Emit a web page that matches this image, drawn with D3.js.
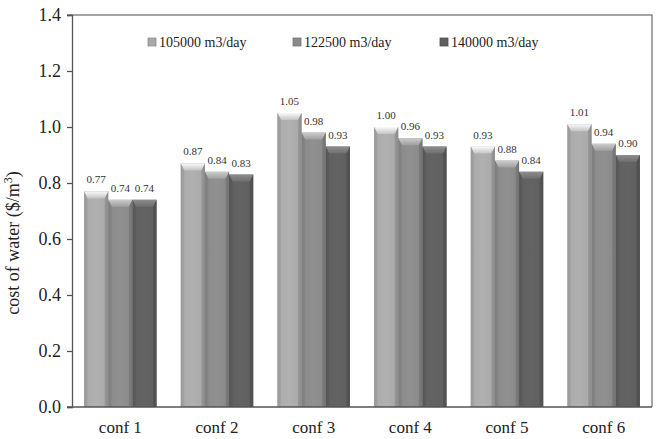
<!DOCTYPE html>
<html>
<head>
<meta charset="utf-8">
<script src="https://cdn.jsdelivr.net/npm/d3@7"></script>
<style>
  html, body { margin: 0; padding: 0; background: #fff; }
  svg text { font-family: "Liberation Serif", "DejaVu Serif", serif !important; }
</style>
</head>
<body>
<svg id="chart" width="657" height="439"></svg>
<script>
// Cost of water per configuration and plant capacity
const categories = ["conf 1", "conf 2", "conf 3", "conf 4", "conf 5", "conf 6"];
const seriesNames = ["105000 m3/day", "122500 m3/day", "140000 m3/day"];
const values105000 = [0.77, 0.87, 1.05, 1.00, 0.93, 1.01];
const values122500 = [0.74, 0.84, 0.98, 0.96, 0.88, 0.94];
const values140000 = [0.74, 0.83, 0.93, 0.93, 0.84, 0.90];
const yTicks = [0, 0.2, 0.4, 0.6, 0.8, 1.0, 1.2, 1.4];

const seriesValues = [values105000, values122500, values140000];
const baseColors = ["#a9a9a9", "#8a8a8a", "#5f5f5f"];
const FONT = "Liberation Serif";

const svg = d3.select("#chart");
const margin = { left: 72, right: 5, top: 15, bottom: 32 };
const W = 657, H = 439;
const x0 = margin.left, x1 = W - margin.right;
const yTop = margin.top, yBot = H - margin.bottom;

const x = d3.scaleBand().domain(categories).range([x0, x1])
  .paddingInner(0.25).paddingOuter(0.125);
const xs = d3.scaleBand().domain(d3.range(seriesNames.length)).range([0, x.bandwidth()]);
const y = d3.scaleLinear().domain([0, 1.4]).range([yBot, yTop]);

// Gradients giving each bar a rounded, bevelled look
const defs = svg.append("defs");
baseColors.forEach((c, i) => {
  const base = d3.color(c);
  const g = defs.append("linearGradient").attr("id", "body" + i)
    .attr("x1", "0").attr("x2", "1").attr("y1", "0").attr("y2", "0");
  g.append("stop").attr("offset", "0").attr("stop-color", base.darker(0.35));
  g.append("stop").attr("offset", "0.12").attr("stop-color", base.brighter(0.05));
  g.append("stop").attr("offset", "0.5").attr("stop-color", base.brighter(0.12));
  g.append("stop").attr("offset", "0.88").attr("stop-color", base.brighter(0.02));
  g.append("stop").attr("offset", "1").attr("stop-color", base.darker(0.45));
  const cap = defs.append("linearGradient").attr("id", "cap" + i)
    .attr("x1", "0").attr("x2", "0").attr("y1", "0").attr("y2", "1");
  cap.append("stop").attr("offset", "0").attr("stop-color", base.brighter(1.1));
  cap.append("stop").attr("offset", "1").attr("stop-color", base.brighter(0.4));
});

// Plot frame (top and right)
svg.append("path")
  .attr("d", `M${x0 - 5},${yTop}H${x1}V${yBot}`)
  .attr("fill", "none").attr("stroke", "#868686").attr("stroke-width", 1.5);

// Y axis
const yAxis = svg.append("g").attr("transform", `translate(${x0},0)`)
  .call(d3.axisLeft(y).tickValues(yTicks).tickFormat(d3.format(".1f")).tickSize(5).tickPadding(6));
yAxis.attr("font-family", null).attr("font-size", null);
yAxis.select(".domain").attr("stroke", "#555").attr("stroke-width", 1.3);
yAxis.selectAll(".tick line").attr("stroke", "#555").attr("stroke-width", 1.3);
yAxis.selectAll("text").style("font-family", FONT).style("font-size", "18px").attr("fill", "#222");

// Bars
const groups = svg.append("g").selectAll("g").data(categories).join("g")
  .attr("transform", d => `translate(${x(d)},0)`);

seriesValues.forEach((vals, si) => {
  const bw = xs.bandwidth();
  const bx = xs(si);
  const cap = 7, inset = 3.5;
  const bar = groups.append("g");
  bar.append("rect")
    .attr("x", bx).attr("width", bw)
    .attr("y", (d, ci) => y(vals[ci]))
    .attr("height", (d, ci) => yBot - y(vals[ci]))
    .attr("fill", `url(#body${si})`);
  // top bevel
  bar.append("path")
    .attr("d", (d, ci) => {
      const t = y(vals[ci]);
      return `M${bx},${t}H${bx + bw}L${bx + bw - inset},${t + cap}H${bx + inset}Z`;
    })
    .attr("fill", `url(#cap${si})`);
  // side bevel shading
  bar.append("path")
    .attr("d", (d, ci) => {
      const t = y(vals[ci]);
      return `M${bx},${t}L${bx + inset},${t + cap}V${yBot}H${bx}Z`;
    })
    .attr("fill", d3.color(baseColors[si]).darker(0.25)).attr("opacity", 0.6);
  bar.append("path")
    .attr("d", (d, ci) => {
      const t = y(vals[ci]);
      return `M${bx + bw},${t}L${bx + bw - inset},${t + cap}V${yBot}H${bx + bw}Z`;
    })
    .attr("fill", d3.color(baseColors[si]).darker(0.6)).attr("opacity", 0.6);
  // value labels
  bar.append("text")
    .attr("x", bx + bw / 2)
    .attr("y", (d, ci) => y(vals[ci]) - 8)
    .attr("text-anchor", "middle")
    .style("font-family", FONT).style("font-size", "11px")
    .attr("fill", "#333")
    .text((d, ci) => d3.format(".2f")(vals[ci]));
});

// X axis baseline and category labels
svg.append("line").attr("x1", x0 - 5).attr("x2", x1).attr("y1", yBot).attr("y2", yBot)
  .attr("stroke", "#555").attr("stroke-width", 1.3);
svg.append("g").selectAll("text").data(categories).join("text")
  .attr("x", d => x(d) + x.bandwidth() / 2)
  .attr("y", yBot + 26)
  .attr("text-anchor", "middle")
  .style("font-family", FONT).style("font-size", "17px")
  .attr("fill", "#222")
  .text(d => d);

// Y axis title
const yTitle = svg.append("text")
  .attr("transform", `translate(19,${243}) rotate(-90)`)
  .attr("text-anchor", "middle")
  .style("font-family", FONT).style("font-size", "18px")
  .attr("fill", "#222");
yTitle.append("tspan").text("cost of water ($/m");
yTitle.append("tspan").style("font-size", "12px").attr("dy", -7).text("3");
yTitle.append("tspan").attr("dy", 7).text(")");

// Legend
const legendX = [148, 293, 440];
const legend = svg.append("g").selectAll("g").data(seriesNames).join("g")
  .attr("transform", (d, i) => `translate(${legendX[i]},${42})`);
legend.append("rect").attr("x", 0).attr("y", -4).attr("width", 8).attr("height", 8)
  .attr("fill", (d, i) => baseColors[i]).attr("stroke", (d, i) => d3.color(baseColors[i]).darker(0.5))
  .attr("stroke-width", 0.8);
legend.append("text").attr("x", 11).attr("y", 5)
  .style("font-family", FONT).style("font-size", "14px")
  .attr("fill", "#222")
  .text(d => d);
</script>
</body>
</html>
